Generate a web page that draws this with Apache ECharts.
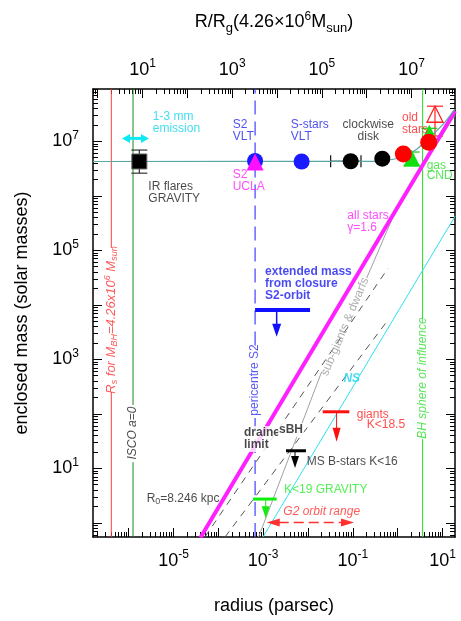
<!DOCTYPE html>
<html><head><meta charset="utf-8">
<script src="https://cdn.jsdelivr.net/npm/echarts@6/dist/echarts.min.js"></script>
<style>html,body{margin:0;padding:0;background:#fff}#c{width:461px;height:621px}</style>
</head><body><div id="c"></div>
<script>
// ---------- axis ranges / ticks ----------
const X_MIN = 1.6e-7, X_MAX = 19;
const Y_MIN = 0.55, Y_MAX = 9.1e7;
const RG_PC = 2.038e-7;            // gravitational radius of 4.26e6 Msun in pc
const xLabelTicks = [1e-5, 1e-3, 1e-1, 10];
const yLabelTicks = [10, 1e3, 1e5, 1e7];
const topLabelTicks = [10, 1e3, 1e5, 1e7];

// ---------- reference radii / masses ----------
const mBH = 4.26e6;
const rsR = 4.1e-7;       // Schwarzschild radius (pc)
const iscoR = 1.25e-6;    // ISCO a=0
const periR = 6.6e-4;     // S2 pericentre
const sphereR = 3.6;      // BH sphere of influence

// ---------- curves ----------
const tealR = [1.6e-7, 0.3, 0.6, 1.2, 2.5, 5, 10, 19];
const tealM = [4.26e6, 4.28e6, 4.5e6, 5.1e6, 6.9e6, 1.15e7, 2.0e7, 3.9e7];
const allStarsR = [4.0e-5, 19];
const allStarsM = [0.54, 3.6e7];
const nsR = [9.9e-4, 19];
const nsM = [0.55, 4.2e5];
const subGiantLoR = [7.9e-4, 0.0202];
const subGiantLoM = [0.55, 592];
const subGiantHiR = [0.204, 1.0, 19];
const subGiantHiM = [3.1e4, 6.5e5, 3.0e7];
const dashAR = [5.0e-5, 0.61];
const dashAM = [0.55, 4.7e4];
const dashBR = [1.41e-4, 0.57];
const dashBM = [0.55, 4.9e3];

// ---------- measurements ----------
const irR = [1.73e-6], irM = [4.26e6], irMLo = [2.6e6], irMHi = [6.9e6];
const s2VltR = [6.6e-4], s2VltM = [4.35e6];
const s2UclaR = [6.6e-4], s2UclaM = [4.15e6];
const sStarsR = [7.2e-3], sStarsM = [4.26e6];
const cwDiskR = [0.0895, 0.454], cwDiskM = [4.3e6, 4.8e6];
const cwDiskRLo = [0.032], cwDiskRHi = [0.152];
const oldStarsR = [1.34, 4.92], oldStarsM = [5.85e6, 9.6e6];
const gasR = [2.06, 5.08], gasM = [4.87e6, 1.4e7];
const gasMLo = [3.67e6, 1.06e7], gasMHi = [6.35e6, 1.73e7];
const openTriR = [6.8], openTriM = [3.13e7], openTriMLo = [1.25e7], openTriMHi = [4.4e7];

// upper limits: bar from r1 to r2 at level m, arrow at rA down to mTip
const limR1 = [6.6e-4, 0.0213, 3.23e-3, 5.93e-4];
const limR2 = [0.0111, 0.0834, 9.0e-3, 2.0e-3];
const limM = [8.0e3, 109, 21, 2.73];
const limArrowR = [2.0e-3, 0.0434, 5.13e-3, 1.14e-3];
const limTipM = [2.6e3, 30.8, 10.1, 1.22];

// ranges (double arrows)
const g2R = [1.2e-3, 0.106], g2M = [1.02];
const mmR = [7.1e-7, 2.84e-6], mmM = [1.13e7];

// ---------- helpers ----------
const FONT = 'Liberation Sans, Arial, Helvetica, sans-serif';
const pts = (xs, ys) => xs.map((x, i) => [x, ys[i]]);
function decades(lo, hi) { const o = []; for (let e = -8; e <= 9; e++) { const v = Math.pow(10, e); if (v >= lo * 0.9999 && v <= hi * 1.0001) o.push(v); } return o; }
function minors(lo, hi) { const o = []; for (let e = -8; e <= 9; e++) for (let k = 2; k <= 9; k++) { const v = k * Math.pow(10, e); if (v >= lo && v <= hi) o.push(v); } return o; }
const expFmt = v => '{b|10}{s|' + Math.round(Math.log10(v)) + '}';
const tickRich = { b: { fontSize: 18, fontFamily: FONT, color: '#000' }, s: { fontSize: 12, fontFamily: FONT, color: '#000', padding: [0, 0, 12, 0] } };

function baseAxis(o) {
  return Object.assign({ type: 'log', logBase: 10, splitLine: { show: false }, axisLine: { show: false },
    axisLabel: { show: false }, axisTick: { show: false }, minorTick: { show: false }, silent: true }, o);
}
const AX_LINE = { show: true, onZero: false, lineStyle: { color: '#000', width: 1.5 } };

function lineS(data, color, width, type, z) {
  return { type: 'line', data, symbol: 'none', silent: true, animation: false, clip: true, z: z || 3,
    lineStyle: { color, width, type: type || 'solid' } };
}
function scatterS(r, m, symbol, size, color, border, z) {
  return { type: 'scatter', data: pts(r, m), symbol, symbolSize: size, silent: true, animation: false, z: z || 5,
    itemStyle: Object.assign({ color, opacity: 1 }, border || {}) };
}
// vertical error bars rows [r, mLo, mHi]
function vErr(rows, color, width, cap) {
  return { type: 'custom', silent: true, animation: false, z: 4, data: rows, encode: { x: 0, y: [1, 2] },
    renderItem(p, api) {
      const a = api.coord([api.value(0), api.value(1)]), b = api.coord([api.value(0), api.value(2)]);
      const st = { stroke: color, lineWidth: width };
      return { type: 'group', children: [
        { type: 'line', shape: { x1: a[0], y1: a[1], x2: b[0], y2: b[1] }, style: st },
        { type: 'line', shape: { x1: a[0] - cap, y1: a[1], x2: a[0] + cap, y2: a[1] }, style: st },
        { type: 'line', shape: { x1: b[0] - cap, y1: b[1], x2: b[0] + cap, y2: b[1] }, style: st }] };
    } };
}
// horizontal error bars rows [rLo, rHi, m]
function hErr(rows, color, width, cap) {
  return { type: 'custom', silent: true, animation: false, z: 4, data: rows, encode: { x: [0, 1], y: 2 },
    renderItem(p, api) {
      const a = api.coord([api.value(0), api.value(2)]), b = api.coord([api.value(1), api.value(2)]);
      const st = { stroke: color, lineWidth: width };
      return { type: 'group', children: [
        { type: 'line', shape: { x1: a[0], y1: a[1], x2: b[0], y2: b[1] }, style: st },
        { type: 'line', shape: { x1: a[0], y1: a[1] - cap, x2: a[0], y2: a[1] + cap }, style: st },
        { type: 'line', shape: { x1: b[0], y1: b[1] - cap, x2: b[0], y2: b[1] + cap }, style: st }] };
    } };
}
// upper limits rows [r1, r2, m, rA, mTip]
function limitS(rows, color, barW, lineW, hw, hl) {
  return { type: 'custom', silent: true, animation: false, z: 6, data: rows, encode: { x: [0, 1, 3], y: [2, 4] },
    renderItem(p, api) {
      const a = api.coord([api.value(0), api.value(2)]), b = api.coord([api.value(1), api.value(2)]);
      const s = api.coord([api.value(3), api.value(2)]), t = api.coord([api.value(3), api.value(4)]);
      return { type: 'group', children: [
        { type: 'line', shape: { x1: a[0], y1: a[1], x2: b[0], y2: b[1] }, style: { stroke: color, lineWidth: barW } },
        { type: 'line', shape: { x1: s[0], y1: s[1], x2: s[0], y2: t[1] - hl + 1 }, style: { stroke: color, lineWidth: lineW } },
        { type: 'polygon', shape: { points: [[s[0] - hw, t[1] - hl], [s[0] + hw, t[1] - hl], [s[0], t[1]]] }, style: { fill: color } }] };
    } };
}
// double arrows rows [r1, r2, m]
function dArrow(rows, color, width, dash, hw, hl) {
  return { type: 'custom', silent: true, animation: false, z: 6, data: rows, encode: { x: [0, 1], y: 2 },
    renderItem(p, api) {
      const a = api.coord([api.value(0), api.value(2)]), b = api.coord([api.value(1), api.value(2)]);
      return { type: 'group', children: [
        { type: 'line', shape: { x1: a[0] + hl - 1, y1: a[1], x2: b[0] - hl + 1, y2: b[1] }, style: { stroke: color, lineWidth: width, lineDash: dash } },
        { type: 'polygon', shape: { points: [[a[0], a[1]], [a[0] + hl, a[1] - hw], [a[0] + hl, a[1] + hw]] }, style: { fill: color } },
        { type: 'polygon', shape: { points: [[b[0], b[1]], [b[0] - hl, b[1] - hw], [b[0] - hl, b[1] + hw]] }, style: { fill: color } }] };
    } };
}

// ---------- text annotations (anchored in data coordinates) ----------
const subSty = { fontSize: 9, padding: [6, 0, 0, 0] };
const supSty = { fontSize: 9, padding: [0, 0, 7, 0] };
const notes = [
  { t: '1-3 mm\nemission', r: 3.44e-6, m: 2.21e7, c: '#14d4ec' },
  { t: 'S2\nVLT', r: 2.09e-4, m: 1.55e7, c: '#2424ee' },
  { t: 'S2\nUCLA', r: 2.09e-4, m: 1.89e6, c: '#ff20ff' },
  { t: 'IR flares\nGRAVITY', r: 2.74e-6, m: 1.16e6, c: '#1a1a1a' },
  { t: 'S-stars\nVLT', r: 4.11e-3, m: 1.55e7, c: '#2424ee' },
  { t: 'clockwise\ndisk', r: 0.221, m: 1.55e7, c: '#1a1a1a', al: 'center' },
  { t: 'old\nstars', r: 1.25, m: 2.08e7, c: '#ff2020' },
  { t: 'gas\nCND', r: 4.43, m: 2.85e6, c: '#2ee02e', lh: 10 },
  { t: 'all stars\nγ=1.6', r: 0.0753, m: 3.37e5, c: '#ff20ff' },
  { t: 'extended mass\nfrom closure\nS2-orbit', r: 1.1e-3, m: 2.4e4, c: '#1c1cf0', b: true },
  { t: 'sub-giants & dwarfs', r: 0.0668, m: 3963, c: '#9a9a9a', al: 'center', rot: 67 },
  { t: 'NS', r: 0.0944, m: 448, c: '#1cd4f0', b: true, i: true, al: 'center' },
  { t: 'pericentre S2', r: periR, m: 417, c: '#3030ee', al: 'center', rot: 90 },
  { t: '{n|R}{sb|s}{n| for M}{sb|BH}{n|=4.26x10}{sp|6}{n| M}{sb|sun}', r: rsR, m: 5260, c: '#ff3030', i: true, al: 'center', rot: 90, fs: 13 },
  { t: 'ISCO a=0', r: iscoR, m: 44.4, c: '#1a1a1a', i: true, al: 'center', rot: 90 },
  { t: 'BH sphere of influence', r: sphereR, m: 454, c: '#30dd30', i: true, al: 'center', rot: 90 },
  { t: 'draine\nlimit', r: 3.55e-4, m: 34.4, c: '#1a1a1a', b: true, bg: true },
  { t: 'sBH', r: 2.14e-3, m: 50.3, c: '#1a1a1a', b: true, bg: true },
  { t: 'giants', r: 0.122, m: 98, c: '#ff2020' },
  { t: 'K<18.5', r: 0.204, m: 62, c: '#ff2020' },
  { t: 'MS B-stars K<16', r: 9.35e-3, m: 13.2, c: '#1a1a1a' },
  { t: 'K<19 GRAVITY', r: 2.91e-3, m: 4.11, c: '#28ee28' },
  { t: 'G2 orbit range', r: 0.0202, m: 1.6, c: '#ff3030', i: true, al: 'center' },
  { t: '{n|R}{sb|0}{n|=8.246 kpc}', r: 2.52e-6, m: 2.81, c: '#1a1a1a' }
];
function noteSeries() {
  return { type: 'scatter', silent: true, animation: false, z: 20, symbolSize: 0.01, itemStyle: { color: 'rgba(0,0,0,0)' },
    data: notes.map(n => ({ value: [n.r, n.m], label: {
      show: true, position: 'inside', formatter: n.t, color: n.c, fontFamily: FONT, fontSize: n.fs || 12,
      fontWeight: n.b ? 'bold' : 'normal', fontStyle: n.i ? 'italic' : 'normal', lineHeight: n.lh || 12,
      align: n.al || 'left', verticalAlign: 'middle', rotate: n.rot || 0,
      backgroundColor: n.bg ? '#fff' : 'transparent', padding: n.bg ? [1, 1, 1, 1] : 0,
      rich: { n: { fontSize: n.fs || 12 }, sb: subSty, sp: supSty } } })) };
}

// ---------- axes ----------
const xTop = [X_MIN / RG_PC, X_MAX / RG_PC];
const xAxes = [
  baseAxis({ position: 'bottom', min: X_MIN, max: X_MAX, axisLine: AX_LINE,
    axisTick: { show: true, inside: true, length: 9, customValues: decades(X_MIN, X_MAX), lineStyle: { color: '#000' } },
    axisLabel: { show: true, customValues: xLabelTicks, formatter: expFmt, rich: tickRich, margin: 12 },
    name: 'radius (parsec)', nameLocation: 'middle', nameGap: 60, nameTextStyle: { fontSize: 18, fontFamily: FONT, color: '#000' } }),
  baseAxis({ position: 'bottom', min: X_MIN, max: X_MAX,
    axisTick: { show: true, inside: true, length: 5, customValues: minors(X_MIN, X_MAX), lineStyle: { color: '#000' } } }),
  baseAxis({ position: 'top', min: xTop[0], max: xTop[1], axisLine: AX_LINE,
    axisTick: { show: true, inside: true, length: 9, customValues: decades(xTop[0], xTop[1]), lineStyle: { color: '#000' } },
    axisLabel: { show: true, customValues: topLabelTicks, formatter: expFmt, rich: tickRich, margin: 7 },
    name: '{a|R/R}{sb|g}{a|(4.26×10}{sp|6}{a|M}{sb|sun}{a|)}', nameLocation: 'middle', nameGap: 54,
    nameTextStyle: { fontSize: 18, fontFamily: FONT, color: '#000', rich: {
      a: { fontSize: 18, fontFamily: FONT }, sb: { fontSize: 13, fontFamily: FONT, padding: [12, 0, 0, 0] }, sp: { fontSize: 12, fontFamily: FONT, padding: [0, 0, 12, 0] } } } }),
  baseAxis({ position: 'top', min: xTop[0], max: xTop[1],
    axisTick: { show: true, inside: true, length: 5, customValues: minors(xTop[0], xTop[1]), lineStyle: { color: '#000' } } })
];
const yAxes = [
  baseAxis({ position: 'left', min: Y_MIN, max: Y_MAX, axisLine: AX_LINE,
    axisTick: { show: true, inside: true, length: 9, customValues: decades(Y_MIN, Y_MAX), lineStyle: { color: '#000' } },
    axisLabel: { show: true, customValues: yLabelTicks, formatter: expFmt, rich: tickRich, margin: 14 },
    name: 'enclosed mass (solar masses)', nameLocation: 'middle', nameGap: 62, nameRotate: 90,
    nameTextStyle: { fontSize: 18, fontFamily: FONT, color: '#000' } }),
  baseAxis({ position: 'left', min: Y_MIN, max: Y_MAX,
    axisTick: { show: true, inside: true, length: 5, customValues: minors(Y_MIN, Y_MAX), lineStyle: { color: '#000' } } }),
  baseAxis({ position: 'right', min: Y_MIN, max: Y_MAX, axisLine: AX_LINE,
    axisTick: { show: true, inside: true, length: 9, customValues: decades(Y_MIN, Y_MAX), lineStyle: { color: '#000' } } }),
  baseAxis({ position: 'right', min: Y_MIN, max: Y_MAX,
    axisTick: { show: true, inside: true, length: 5, customValues: minors(Y_MIN, Y_MAX), lineStyle: { color: '#000' } } })
];

// ---------- series ----------
const series = [
  // vertical reference lines (with gaps for their labels)
  lineS([[rsR, Y_MIN], [rsR, 251]], '#ff4040', 1),
  lineS([[rsR, 1.1e5], [rsR, Y_MAX]], '#ff4040', 1),
  lineS([[iscoR, Y_MIN], [iscoR, 13]], '#1a8a1a', 1),
  lineS([[iscoR, 145], [iscoR, Y_MAX]], '#1a8a1a', 1),
  lineS([[periR, Y_MIN], [periR, 100]], '#4040ff', 1.2, [14, 7]),
  lineS([[periR, 1800], [periR, Y_MAX]], '#4040ff', 1.2, [14, 7]),
  lineS([[sphereR, Y_MIN], [sphereR, 34.4]], '#22dd22', 1),
  lineS([[sphereR, 5700], [sphereR, Y_MAX]], '#22dd22', 1),
  // model curves
  lineS(pts(dashAR, dashAM), '#555', 1, [7, 6]),
  lineS(pts(dashBR, dashBM), '#555', 1, [7, 6]),
  lineS(pts(subGiantLoR, subGiantLoM), '#a0a0a0', 1),
  lineS(pts(subGiantHiR, subGiantHiM), '#a0a0a0', 1),
  lineS(pts(nsR, nsM), '#30e0f0', 1),
  lineS(pts(allStarsR, allStarsM), '#ff20ff', 4, 'solid', 4),
  Object.assign(lineS(pts(tealR, tealM), '#5aa7a7', 1.2, 'solid', 4), { smooth: 0.3 }),
  // error bars
  vErr([[irR[0], irMLo[0], irMHi[0]]], '#333', 1.2, 8),
  hErr([[cwDiskRLo[0], cwDiskRHi[0], cwDiskM[0]]], '#111', 1.2, 6),
  vErr([[openTriR[0], openTriMLo[0], openTriMHi[0]]], '#ff2020', 1.2, 8),
  vErr(gasR.map((r, i) => [r, gasMLo[i], gasMHi[i]]), '#10d010', 1.2, 8),
  // markers
  scatterS(irR, irM, 'rect', 15, '#000', { borderColor: '#666', borderWidth: 1 }),
  scatterS(s2VltR, s2VltM, 'circle', 16, '#1a1aff'),
  scatterS(s2UclaR, s2UclaM, 'triangle', 17, '#ff10ff', null, 6),
  scatterS(sStarsR, sStarsM, 'circle', 16, '#1a1aff'),
  scatterS(cwDiskR, cwDiskM, 'circle', 16, '#000'),
  scatterS(oldStarsR, oldStarsM, 'circle', 17, '#ff0000', null, 6),
  scatterS(gasR, gasM, 'triangle', 17, '#10e010'),
  scatterS(openTriR, openTriM, 'triangle', 16, 'rgba(255,255,255,0)', { borderColor: '#ff2020', borderWidth: 1.3 }),
  // upper limits
  limitS([[limR1[0], limR2[0], limM[0], limArrowR[0], limTipM[0]]], '#1010ff', 4, 1.5, 4.5, 13),
  limitS([[limR1[1], limR2[1], limM[1], limArrowR[1], limTipM[1]]], '#ff1010', 3, 1, 4, 14),
  limitS([[limR1[2], limR2[2], limM[2], limArrowR[2], limTipM[2]]], '#000', 3, 1, 4, 12),
  limitS([[limR1[3], limR2[3], limM[3], limArrowR[3], limTipM[3]]], '#10ee10', 3, 1, 4, 12),
  // ranges
  dArrow([[g2R[0], g2R[1], g2M[0]]], '#ff3030', 1.5, [10, 5], 4, 13),
  dArrow([[mmR[0], mmR[1], mmM[0]]], '#10e8f0', 3, null, 4.5, 8),
  noteSeries()
].map(s => Object.assign({ xAxisIndex: 0, yAxisIndex: 0 }, s));

const chart = echarts.init(document.getElementById('c'), null, { renderer: 'canvas' });
chart.setOption({
  animation: false,
  backgroundColor: '#fff',
  textStyle: { fontFamily: FONT },
  grid: { left: 93, top: 89, width: 362, height: 448, containLabel: false },
  xAxis: xAxes,
  yAxis: yAxes,
  series
});
</script></body></html>
